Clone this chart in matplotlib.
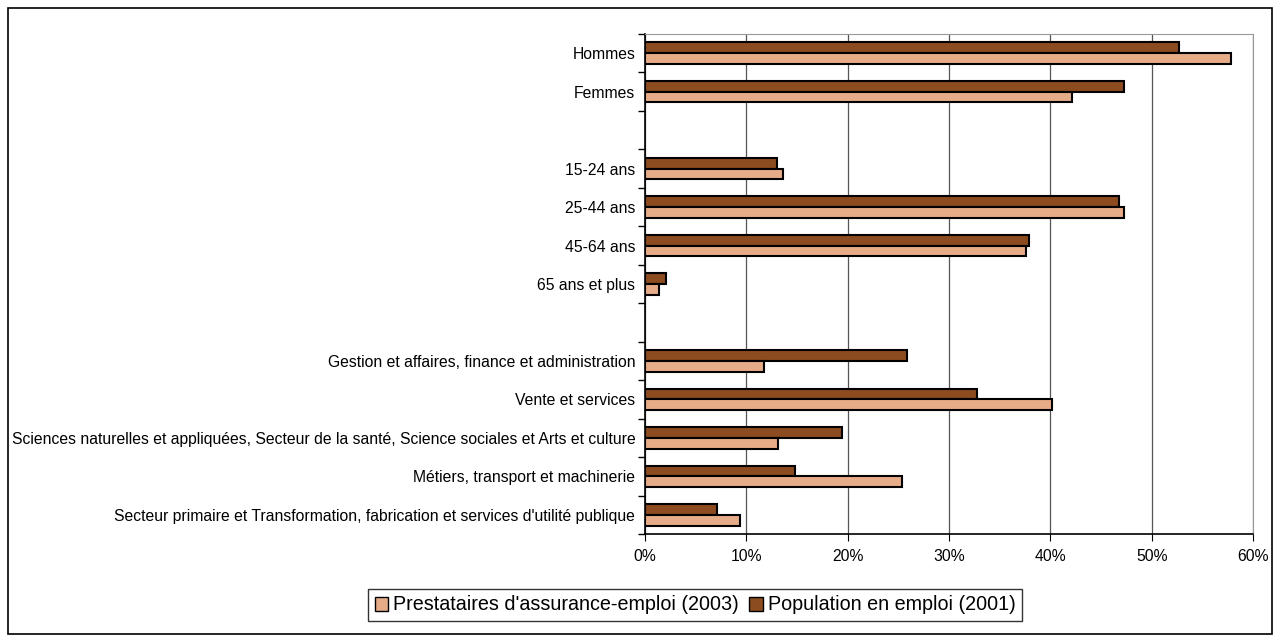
import numpy as np
import matplotlib
matplotlib.use("Agg")
import matplotlib.pyplot as plt
from matplotlib.patches import Rectangle, Patch
from matplotlib.ticker import PercentFormatter

plt.rcParams['font.family'] = ['Liberation Sans', 'DejaVu Sans']

# categories from top to bottom ('' = empty separator row)
categories = ["Hommes", "Femmes", "",
              "15-24 ans", "25-44 ans", "45-64 ans", "65 ans et plus", "",
              "Gestion et affaires, finance et administration",
              "Vente et services",
              "Sciences naturelles et appliquées, Secteur de la santé, Science sociales et Arts et culture",
              "Métiers, transport et machinerie",
              "Secteur primaire et Transformation, fabrication et services d'utilité publique"]

# values in %, None for empty rows
prestataires = [57.8, 42.1, None, 13.6, 47.3, 37.6, 1.35, None, 11.7, 40.2, 13.1, 25.4, 9.4]
population = [52.7, 47.3, None, 13.0, 46.8, 37.9, 2.1, None, 25.9, 32.8, 19.4, 14.8, 7.1]

labels = ["Prestataires d'assurance-emploi (2003)", "Population en emploi (2001)"]
c_light = "#E6AC88"
c_dark = "#8C4C20"

fig = plt.figure(figsize=(12.75, 6.37), dpi=100)
ax = fig.add_axes([645 / 1275, 1 - 534 / 637, (1253 - 645) / 1275, (534 - 34) / 637])

n = len(categories)
y = np.arange(n)
h = 0.28
for i in range(n):
    if population[i] is not None:
        ax.barh(y[i] - h / 2, population[i], height=h, color=c_dark,
                edgecolor="black", linewidth=1.5, zorder=3)
    if prestataires[i] is not None:
        ax.barh(y[i] + h / 2, prestataires[i], height=h, color=c_light,
                edgecolor="black", linewidth=1.5, zorder=3)

ax.set_ylim(n - 0.5, -0.5)
ax.set_xlim(0, 60)
ax.set_xticks(np.arange(0, 61, 10))
ax.xaxis.set_major_formatter(PercentFormatter(decimals=0))
ax.set_yticks(y)
ax.set_yticklabels(categories, fontsize=11.3)
ax.set_yticks(np.arange(-0.5, n, 1), minor=True)
ax.tick_params(axis='y', which='major', length=0, pad=7)
ax.tick_params(axis='y', which='minor', length=5, width=1)
ax.tick_params(axis='x', length=5, labelsize=11.3, pad=6)

ax.grid(axis='x', color='#555555', linewidth=0.9, zorder=0)
ax.spines['top'].set_color('#999999')
ax.spines['right'].set_color('#999999')
ax.spines['left'].set_linewidth(1.2)
ax.spines['bottom'].set_linewidth(1.2)

handles = [Patch(facecolor=c_light, edgecolor='black', linewidth=1),
           Patch(facecolor=c_dark, edgecolor='black', linewidth=1)]
leg = fig.legend(handles, labels, loc='center', bbox_to_anchor=(695 / 1275, 1 - 605 / 637),
                 ncol=2, fontsize=14.2, frameon=True, fancybox=False,
                 edgecolor='black', handlelength=0.7, handleheight=0.7,
                 handletextpad=0.25, columnspacing=0.5, borderpad=0.35)
leg.get_frame().set_linewidth(1)

# outer chart border
fig.patches.append(Rectangle((8 / 1275, 3 / 637), 1264 / 1275, 626 / 637,
                             transform=fig.transFigure, fill=False,
                             edgecolor='black', linewidth=1.2))

fig.savefig("out.png", dpi=100)
